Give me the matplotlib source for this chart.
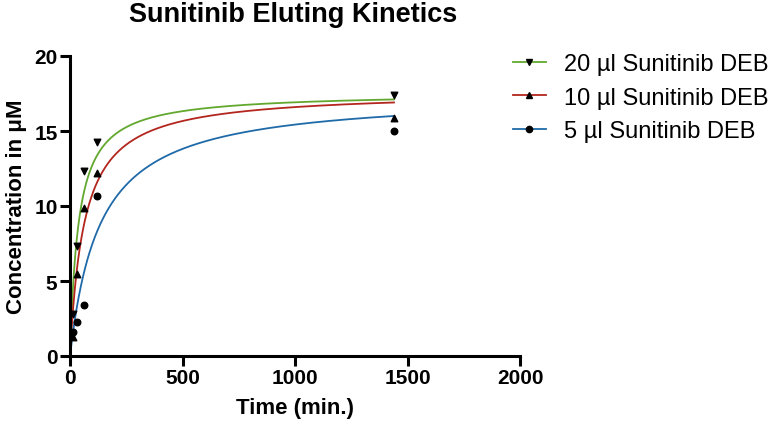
import numpy as np
import matplotlib
matplotlib.use("Agg")
import matplotlib.pyplot as plt

plt.rcParams["font.family"] = ["Liberation Sans", "DejaVu Sans"]

# sampling times (min.)
time_min = [15, 30, 60, 120, 1440]

# measured concentrations (uM)
conc_20ul = [2.8, 7.35, 12.35, 14.25, 17.4]
conc_10ul = [1.3, 5.5, 9.85, 12.2, 15.9]
conc_5ul = [1.6, 2.25, 3.4, 10.65, 15.0]

# hyperbolic fit parameters: y = Bmax * t / (K + t)
fit_bmax = [17.55, 17.64, 17.48]
fit_k = [37.6, 63.0, 133.0]

labels = ["20 µl Sunitinib DEB", "10 µl Sunitinib DEB", "5 µl Sunitinib DEB"]
colors = ["#62a82e", "#b3261e", "#1f6aa8"]
markers = ["v", "^", "o"]

fig = plt.figure(figsize=(7.68, 4.27), dpi=100)
ax = fig.add_axes([70 / 768, 70 / 427, 450 / 768, 300 / 427])

t_curve = np.linspace(0, max(time_min), 600)
series = [conc_20ul, conc_10ul, conc_5ul]
for y, bmax, k, lab, col, mk in zip(series, fit_bmax, fit_k, labels, colors, markers):
    ax.plot(t_curve, bmax * t_curve / (k + t_curve), color=col, lw=1.3, zorder=2)
    ax.scatter(time_min, y, marker=mk, s=22, color="black", zorder=3, clip_on=False)
    ax.plot([], [], color=col, lw=1.3, marker=mk, markersize=4.5,
            markerfacecolor="black", markeredgecolor="black", label=lab)

ax.set_xlim(0, 2000)
ax.set_ylim(0, 20)
ax.set_xticks([0, 500, 1000, 1500, 2000])
ax.set_yticks([0, 5, 10, 15, 20])
for s in ["top", "right"]:
    ax.spines[s].set_visible(False)
for s in ["left", "bottom"]:
    ax.spines[s].set_linewidth(2.2)
ax.tick_params(width=2.2, length=7, labelsize=15, pad=2)
for lbl in ax.get_xticklabels() + ax.get_yticklabels():
    lbl.set_fontweight("bold")

ax.set_xlabel("Time (min.)", fontsize=16, fontweight="bold", labelpad=7)
ax.set_ylabel("Concentration in μM", fontsize=16, fontweight="bold", labelpad=5)
fig.text(293 / 768, 1 - 15 / 427, "Sunitinib Eluting Kinetics", ha="center", va="center",
         fontsize=19.5, fontweight="bold")

ax.legend(loc="upper left", bbox_to_anchor=(494 / 768, 1 - 35 / 427),
          bbox_transform=fig.transFigure, frameon=False, fontsize=17,
          handlelength=1.4, handletextpad=0.75, labelspacing=0.5, borderpad=0.3)

fig.savefig("out.png", dpi=100)
